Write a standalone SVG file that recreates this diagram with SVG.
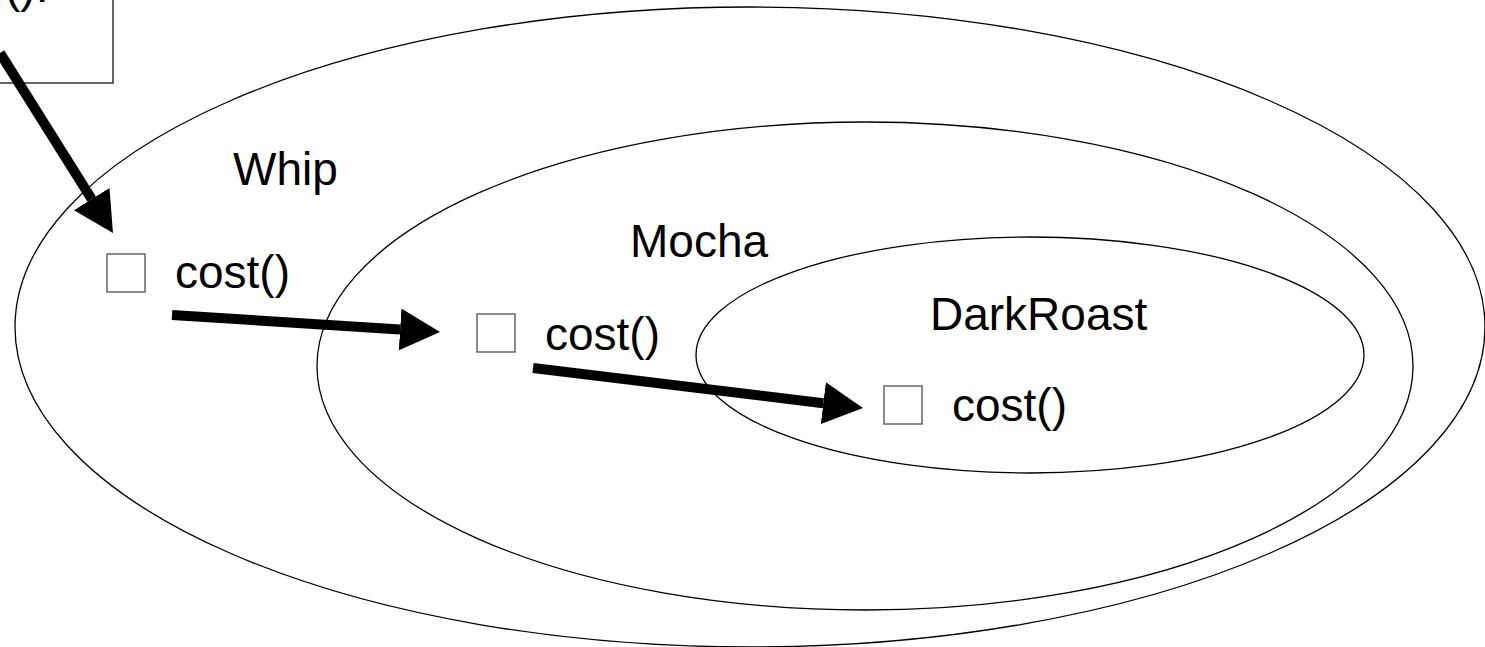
<svg xmlns="http://www.w3.org/2000/svg" width="1485" height="647" viewBox="0 0 1485 647">
<style>
.ell{fill:none;stroke:#000;stroke-width:1.3}
.sq{fill:#fff;stroke:#666;stroke-width:1.5}
.t{font-family:"Liberation Sans",Arial,sans-serif;font-size:46px;fill:#000}
.conn{stroke:#000;stroke-width:10;fill:none}
</style>
<defs>
<marker id="ah" markerUnits="userSpaceOnUse" markerWidth="42" markerHeight="44" refX="0" refY="21" orient="auto">
<path d="M0,0 L40,21 L0,42 Z" fill="#000"/>
</marker>
</defs>
<g id="caller">
<rect x="-2" y="-2" width="115" height="85" fill="#fff" stroke="#333" stroke-width="1.5"/>
<text class="t" x="5" y="2">().</text>
</g>
<g id="whip">
<ellipse class="ell" cx="750" cy="327" rx="735" ry="320"/>
<text class="t" x="233" y="185">Whip</text>
<rect class="sq" x="107" y="254" width="38" height="38"/>
<text class="t" x="175" y="288">cost()</text>
</g>
<g id="mocha">
<ellipse class="ell" cx="865" cy="366" rx="548" ry="244"/>
<text class="t" x="630" y="257">Mocha</text>
<rect class="sq" x="477" y="314" width="38" height="38"/>
<text class="t" x="545" y="350">cost()</text>
</g>
<g id="darkroast">
<ellipse class="ell" cx="1030" cy="355" rx="334" ry="118"/>
<text class="t" x="930" y="330">DarkRoast</text>
<rect class="sq" x="884" y="386" width="38" height="38"/>
<text class="t" x="952" y="421">cost()</text>
</g>
<g id="connectors">
<line class="conn" x1="0" y1="53" x2="91.7" y2="199.1" marker-end="url(#ah)"/>
<line class="conn" x1="172" y1="315" x2="400.1" y2="329.5" marker-end="url(#ah)"/>
<line class="conn" x1="533" y1="368" x2="823.3" y2="403.2" marker-end="url(#ah)"/>
</g>
</svg>
